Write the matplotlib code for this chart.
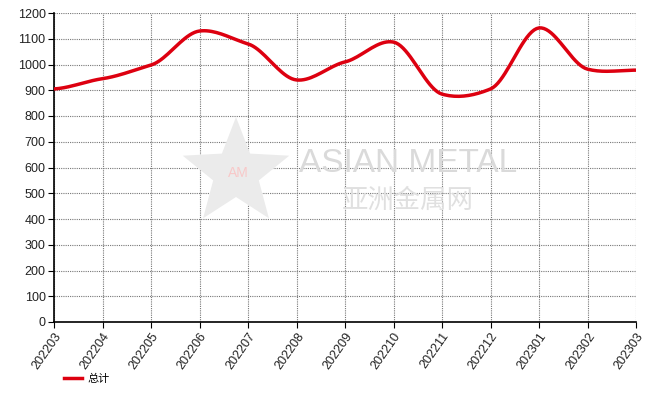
import numpy as np
import matplotlib
matplotlib.use('Agg')
from matplotlib import pyplot as plt
from matplotlib.patches import Polygon

plt.rcParams['font.family'] = ['Liberation Sans', 'Noto Sans CJK SC', 'DejaVu Sans']

months = ['202203', '202204', '202205', '202206', '202207', '202208', '202209',
          '202210', '202211', '202212', '202301', '202302', '202303']
total = [905, 945, 998, 1130, 1080, 940, 1010, 1087, 885, 905, 1142, 982, 978]
series_name = '总计'


def smooth(y, n=20, t=0.3):
    # cardinal spline through the points, only for drawing the curve
    y = np.asarray(y, dtype=float)
    x = np.arange(len(y), dtype=float)
    xs, ys = [], []
    for i in range(len(y) - 1):
        p0 = y[i - 1] if i > 0 else y[i]
        p3 = y[i + 2] if i + 2 < len(y) else y[i + 1]
        m1 = t * (y[i + 1] - p0)
        m2 = t * (p3 - y[i])
        s = np.linspace(0, 1, n, endpoint=False)
        h00 = 2 * s**3 - 3 * s**2 + 1
        h10 = s**3 - 2 * s**2 + s
        h01 = -2 * s**3 + 3 * s**2
        h11 = s**3 - s**2
        xs.append(x[i] + s)
        ys.append(h00 * y[i] + h10 * m1 + h01 * y[i + 1] + h11 * m2)
    xs.append([x[-1]])
    ys.append([y[-1]])
    return np.concatenate(xs), np.concatenate(ys)


fig = plt.figure(figsize=(6.49, 4.03), dpi=100)
ax = fig.add_axes([54 / 649, 81 / 403, 582 / 649, 309 / 403])

# watermark
star = []
for k in range(10):
    ang = np.pi / 2 + k * np.pi / 5
    r = 56 if k % 2 == 0 else 24
    star.append(((236 + r * np.cos(ang)) / 649, (403 - 173 + r * np.sin(ang)) / 403))
fig.patches.append(Polygon(star, closed=True, transform=fig.transFigure,
                           facecolor='#ebebeb', edgecolor='none', zorder=0))
fig.text(238 / 649, (403 - 173) / 403, 'AM', color='#f8c8c8', fontsize=10,
         ha='center', va='center')
fig.text(408 / 649, (403 - 163) / 403, 'ASIAN METAL', color='#dadada', fontsize=24,
         ha='center', va='center')
fig.text(408 / 649, (403 - 200) / 403, '亚洲金属网', color='#e0e0e0', fontsize=19,
         ha='center', va='center', family=['Noto Sans CJK SC', 'DejaVu Sans'])
ax.patch.set_alpha(0)

xs, ys = smooth(total)
ax.plot(xs, ys, color='#dd0010', lw=2.5, label=series_name, zorder=3)

ax.set_xlim(0, len(months) - 1)
ax.set_ylim(0, 1200)
ax.set_xticks(range(len(months)))
ax.set_xticklabels(months, rotation=55, ha='right', rotation_mode='anchor',
                   fontsize=9, color='#222222')
ax.set_yticks(range(0, 1201, 100))
ax.tick_params(axis='y', labelsize=9, labelcolor='#222222', length=4, pad=2)
ax.tick_params(axis='x', length=4, pad=2)
ax.grid(True, color='#777777', linestyle=(0, (1, 1)), lw=0.8)
for side in ['top', 'right']:
    ax.spines[side].set_visible(False)
for side in ['left', 'bottom']:
    ax.spines[side].set_linewidth(1.2)

ax.legend(loc='upper left', bbox_to_anchor=(0.0, -0.135), frameon=False,
          handlelength=1.6, handletextpad=0.5,
          prop={'family': ['Noto Sans CJK SC', 'DejaVu Sans'], 'size': 8})

fig.savefig('out.png', dpi=100)
